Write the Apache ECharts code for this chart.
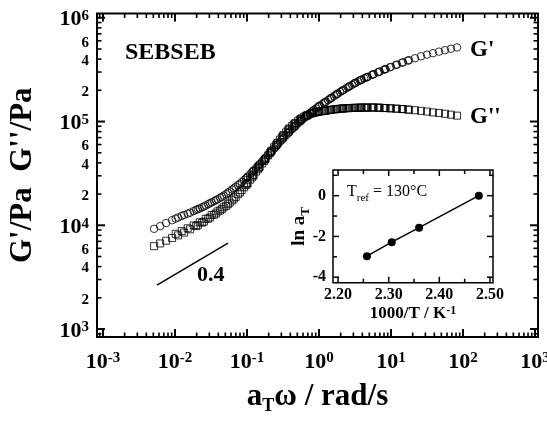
<!DOCTYPE html>
<html>
<head>
<meta charset="utf-8">
<script src="https://cdn.jsdelivr.net/npm/echarts@6.0.0/dist/echarts.min.js"></script>
<style>html,body{margin:0;padding:0;background:#fff;}#chart{width:547px;height:423px;}</style>
</head>
<body>
<div id="chart"></div>
<script>
// ---------------- data ----------------
// measured angular frequencies (rad/s), identical for every temperature
const omega = [0.1, 0.1212, 0.1468, 0.1778, 0.2154, 0.2610, 0.3162, 0.3831, 0.4642, 0.5623, 0.6813, 0.8254,
  1, 1.212, 1.468, 1.778, 2.154, 2.610, 3.162, 3.831, 4.642, 5.623, 6.813, 8.254,
  10, 12.12, 14.68, 17.78, 21.54, 26.10, 31.62, 38.31, 46.42, 56.23, 68.13, 82.54];
// shift factors (inset): ln aT versus 1000/T
const lnAT = [0, -1.57, -2.28, -2.97];
const invT = [2.478, 2.360, 2.306, 2.257];
// log10(G'/Pa) and log10(G''/Pa) for each temperature
const logGp1 = [4.461,4.522,4.583,4.643,4.706,4.771,4.836,4.896,4.953,5.007,5.057,5.104,5.148,5.186,5.226,5.265,5.301,5.337,5.371,5.401,5.428,5.454,5.479,5.504,5.527,5.549,5.571,5.592,5.610,5.629,5.645,5.659,5.674,5.688,5.702,5.714];
const logGpp1 = [4.399,4.477,4.555,4.633,4.711,4.788,4.862,4.926,4.981,5.026,5.059,5.083,5.096,5.104,5.113,5.121,5.126,5.130,5.132,5.134,5.135,5.135,5.133,5.130,5.127,5.124,5.120,5.114,5.109,5.103,5.096,5.088,5.082,5.075,5.066,5.057];
const logGp2 = [4.155,4.181,4.212,4.242,4.274,4.314,4.356,4.399,4.452,4.511,4.572,4.633,4.694,4.758,4.824,4.886,4.943,4.998,5.049,5.096,5.140,5.180,5.218,5.258,5.295,5.330,5.365,5.396,5.423,5.450,5.475,5.499,5.523,5.545,5.567,5.587];
const logGpp2 = [4.001,4.035,4.075,4.114,4.156,4.203,4.257,4.316,4.387,4.462,4.540,4.619,4.696,4.773,4.848,4.915,4.972,5.019,5.054,5.080,5.094,5.103,5.111,5.118,5.125,5.129,5.132,5.133,5.134,5.135,5.134,5.131,5.128,5.124,5.120,5.115];
const logGp3 = [4.064,4.090,4.112,4.137,4.163,4.190,4.221,4.251,4.286,4.326,4.370,4.416,4.469,4.529,4.590,4.651,4.713,4.779,4.843,4.903,4.960,5.013,5.063,5.110,5.153,5.191,5.231,5.269,5.306,5.341,5.375,5.405,5.431,5.457,5.482,5.506];
const logGpp3 = [3.918,3.944,3.971,3.999,4.029,4.063,4.099,4.134,4.173,4.218,4.274,4.339,4.408,4.486,4.564,4.642,4.720,4.797,4.870,4.934,4.987,5.030,5.062,5.084,5.097,5.105,5.114,5.121,5.126,5.130,5.132,5.134,5.135,5.135,5.133,5.130];
const logGp4 = [3.966,3.992,4.022,4.049,4.075,4.100,4.122,4.148,4.173,4.203,4.233,4.265,4.300,4.344,4.388,4.437,4.493,4.554,4.614,4.675,4.740,4.805,4.867,4.927,4.982,5.034,5.082,5.127,5.167,5.207,5.246,5.285,5.320,5.354,5.387,5.416];
const logGpp4 = [3.799,3.825,3.851,3.877,3.903,3.930,3.961,3.992,4.026,4.063,4.102,4.143,4.187,4.239,4.299,4.366,4.440,4.518,4.596,4.674,4.752,4.826,4.895,4.956,5.007,5.046,5.073,5.089,5.100,5.109,5.117,5.124,5.128,5.131,5.133,5.134];
// slope guide line (0.4)
const slopeOmega = [0.00562, 0.0545];
const slopeLogG = [3.424, 3.829];
// axes
const xRange = [8.26e-4, 1.10e3];
const yRange = [838, 1.10e6];
const xTickMajor = [1e-3, 1e-2, 1e-1, 1, 10, 100, 1000];
const yTickMajor = [1e3, 1e4, 1e5, 1e6];
const yTickLabeledMinor = [2e3, 4e3, 6e3, 2e4, 4e4, 6e4, 2e5, 4e5, 6e5];
const insetXRange = [2.19, 2.506];
const insetYRange = [-4.27, 1.26];
const insetXMajor = [2.2, 2.3, 2.4, 2.5];
const insetXMinor = [2.25, 2.35, 2.45];
const insetYMajor = [0, -2, -4];
const insetYMinor = [1, -1, -3];

// ---------------- layout ----------------
const MAIN_BOX = {left: 97, top: 13.5, width: 441, height: 323.5};
const INSET_BOX = {left: 333, top: 170, width: 160, height: 112.7};

// ---------------- helpers ----------------
const lg = v => Math.log10(v);
function logMinors(lo, hi) {
  const out = [];
  for (let e = Math.floor(lg(lo)); e <= Math.ceil(lg(hi)); e++) {
    for (let m = 2; m <= 9; m++) { const v = m * Math.pow(10, e); if (v > lo && v < hi) out.push(v); }
  }
  return out;
}
const xTickMinor = logMinors(xRange[0], xRange[1]);
const yTickMinor = logMinors(yRange[0], yRange[1]);

const SERIF = '"Liberation Serif", "Times New Roman", serif';
const BLACK = '#000';
const bold = (size, extra) => Object.assign({fontFamily: SERIF, fontWeight: 'bold', fontSize: size, color: BLACK}, extra || {});
const richPow = {
  b: bold(22, {lineHeight: 22, verticalAlign: 'bottom'}),
  s: bold(15, {lineHeight: 15, verticalAlign: 'top', padding: [0, 0, 9, 0]}),
  m: bold(15, {lineHeight: 15})
};
const isInt = v => Math.abs(v - Math.round(v)) < 1e-6;
const powFmt = v => '{b|10}{s|' + Math.round(v) + '}';
const yMainFmt = v => isInt(v) ? powFmt(v)
  : '{m|' + Math.round(Math.pow(10, v - Math.floor(v))) + '}';

function ax(o) {
  return Object.assign({
    type: 'value', splitLine: {show: false},
    axisLine: {show: false, onZero: false},
    axisTick: {show: false}, axisLabel: {show: false},
    nameMoveOverlap: false
  }, o);
}
const mXR = [lg(xRange[0]), lg(xRange[1])];
const mYR = [lg(yRange[0]), lg(yRange[1])];

const xAxes = [
  ax({
    gridIndex: 0, position: 'bottom', min: mXR[0], max: mXR[1],
    axisLabel: {show: true, margin: 14, customValues: xTickMajor.map(lg), formatter: powFmt, rich: richPow},
    name: '{b|a}{t|T}{b|ω / rad/s}', nameLocation: 'middle', nameGap: 44,
    nameTextStyle: {rich: {
      b: bold(31, {lineHeight: 31, verticalAlign: 'top'}),
      t: bold(18, {lineHeight: 34, verticalAlign: 'bottom'})
    }}
  }),
  ax({
    gridIndex: 1, position: 'bottom', min: insetXRange[0], max: insetXRange[1],
    axisLabel: {show: true, margin: 4, customValues: insetXMajor, formatter: v => v.toFixed(2),
      fontFamily: SERIF, fontWeight: 'bold', fontSize: 16, color: BLACK},
    name: '{b|1000/T / K}{s|-1}', nameLocation: 'middle', nameGap: 22,
    nameTextStyle: {rich: {
      b: bold(17, {lineHeight: 17, verticalAlign: 'bottom'}),
      s: bold(12, {lineHeight: 12, verticalAlign: 'top', padding: [0, 0, 6, 0]})
    }}
  })
];

const yAxes = [
  ax({
    gridIndex: 0, position: 'left', min: mYR[0], max: mYR[1],
    axisLabel: {show: true, margin: 8, padding: [4, 0, 0, 0],
      customValues: yTickMajor.concat(yTickLabeledMinor).map(lg), formatter: yMainFmt, rich: richPow},
    name: "G'/Pa  G''/Pa", nameLocation: 'middle', nameGap: 59,
    nameTextStyle: bold(31)
  }),
  ax({
    gridIndex: 1, position: 'left', min: insetYRange[0], max: insetYRange[1],
    axisLabel: {show: true, margin: 7, customValues: insetYMajor, formatter: v => String(v),
      fontFamily: SERIF, fontWeight: 'bold', fontSize: 16, color: BLACK},
    name: '{b|ln a}{t|T}', nameLocation: 'middle', nameGap: 21,
    nameTextStyle: {rich: {
      b: bold(19, {lineHeight: 19, verticalAlign: 'top'}),
      t: bold(13, {lineHeight: 22, verticalAlign: 'bottom'})
    }}
  })
];

// ---------------- series ----------------
const gpSets = [logGp1, logGp2, logGp3, logGp4];
const gppSets = [logGpp1, logGpp2, logGpp3, logGpp4];
const series = [];
const hollow = {color: 'rgba(0,0,0,0)', borderColor: BLACK, borderWidth: 1};
for (let i = 0; i < lnAT.length; i++) {
  const aT = Math.exp(lnAT[i]);
  series.push({
    type: 'scatter', name: "G'", xAxisIndex: 0, yAxisIndex: 0, symbol: 'circle', symbolSize: 7.5,
    itemStyle: hollow, silent: true,
    data: omega.map((w, k) => [lg(w * aT), gpSets[i][k]])
  });
  series.push({
    type: 'scatter', name: "G''", xAxisIndex: 0, yAxisIndex: 0, symbol: 'rect', symbolSize: 7,
    itemStyle: hollow, silent: true,
    data: omega.map((w, k) => [lg(w * aT), gppSets[i][k]])
  });
}
series.push({
  type: 'line', xAxisIndex: 0, yAxisIndex: 0, symbol: 'none', silent: true,
  lineStyle: {color: BLACK, width: 1.5},
  data: slopeOmega.map((w, k) => [lg(w), slopeLogG[k]])
});
series.push({
  type: 'line', xAxisIndex: 1, yAxisIndex: 1, symbol: 'circle', symbolSize: 8, silent: true,
  itemStyle: {color: BLACK}, lineStyle: {color: BLACK, width: 1.5},
  data: invT.map((t, k) => [t, lnAT[k]])
});

const texts = [
  {type: 'text', x: 125, y: 52.5, silent: true,
    style: {text: 'SEBSEB', fontFamily: SERIF, fontWeight: 'bold', fontSize: 24, fill: BLACK, verticalAlign: 'middle'}},
  {type: 'text', x: 470, y: 50, silent: true,
    style: {text: "G'", fontFamily: SERIF, fontWeight: 'bold', fontSize: 23, fill: BLACK, verticalAlign: 'middle'}},
  {type: 'text', x: 470, y: 117.5, silent: true,
    style: {text: "G''", fontFamily: SERIF, fontWeight: 'bold', fontSize: 23, fill: BLACK, verticalAlign: 'middle'}},
  {type: 'text', x: 197, y: 275, silent: true,
    style: {text: '0.4', fontFamily: SERIF, fontWeight: 'bold', fontSize: 22, fill: BLACK, verticalAlign: 'middle'}},
  {type: 'text', x: 347, y: 184, silent: true,
    style: {text: '{t|T}{s|ref}{t| = 130°C}', verticalAlign: 'top',
      rich: {
        t: {fontFamily: SERIF, fontSize: 16, lineHeight: 16, verticalAlign: 'top', fill: BLACK},
        s: {fontFamily: SERIF, fontSize: 11, lineHeight: 20, verticalAlign: 'bottom', fill: BLACK}
      }}}
];

// ---------------- chart ----------------
const chart = echarts.init(document.getElementById('chart'), null, {renderer: 'canvas'});
chart.setOption({
  animation: false,
  backgroundColor: '#fff',
  grid: [
    Object.assign({show: true, borderColor: BLACK, borderWidth: 2, backgroundColor: 'rgba(0,0,0,0)',
      containLabel: false, outerBoundsMode: 'none'}, MAIN_BOX),
    Object.assign({show: true, borderColor: BLACK, borderWidth: 1.5, backgroundColor: 'rgba(0,0,0,0)',
      containLabel: false, outerBoundsMode: 'none'}, INSET_BOX)
  ],
  xAxis: xAxes,
  yAxis: yAxes,
  series: series,
  graphic: texts
});

// ---------------- ticks on all four sides, pointing inward (placed through the axes' own scales) ----------------
function frameTickLines(xi, yi, xr, yr, xVals, yVals, len, w) {
  const out = [];
  const xL = chart.convertToPixel({xAxisIndex: xi}, xr[0]);
  const xRt = chart.convertToPixel({xAxisIndex: xi}, xr[1]);
  const yB = chart.convertToPixel({yAxisIndex: yi}, yr[0]);
  const yT = chart.convertToPixel({yAxisIndex: yi}, yr[1]);
  const st = {stroke: BLACK, lineWidth: w};
  xVals.forEach(v => {
    const px = chart.convertToPixel({xAxisIndex: xi}, v);
    out.push({type: 'line', silent: true, z: 50, shape: {x1: px, y1: yB, x2: px, y2: yB - len}, style: st});
    out.push({type: 'line', silent: true, z: 50, shape: {x1: px, y1: yT, x2: px, y2: yT + len}, style: st});
  });
  yVals.forEach(v => {
    const py = chart.convertToPixel({yAxisIndex: yi}, v);
    out.push({type: 'line', silent: true, z: 50, shape: {x1: xL, y1: py, x2: xL + len, y2: py}, style: st});
    out.push({type: 'line', silent: true, z: 50, shape: {x1: xRt, y1: py, x2: xRt - len, y2: py}, style: st});
  });
  return out;
}
const tickEls = [].concat(
  frameTickLines(0, 0, mXR, mYR, xTickMajor.map(lg), yTickMajor.map(lg), 8, 2),
  frameTickLines(0, 0, mXR, mYR, xTickMinor.map(lg), yTickMinor.map(lg), 4.5, 1.6),
  frameTickLines(1, 1, insetXRange, insetYRange, insetXMajor, insetYMajor, 6, 1.5),
  frameTickLines(1, 1, insetXRange, insetYRange, insetXMinor, insetYMinor, 4, 1.5)
);
chart.setOption({graphic: texts.concat(tickEls)}, {replaceMerge: ['graphic']});
</script>
</body>
</html>
